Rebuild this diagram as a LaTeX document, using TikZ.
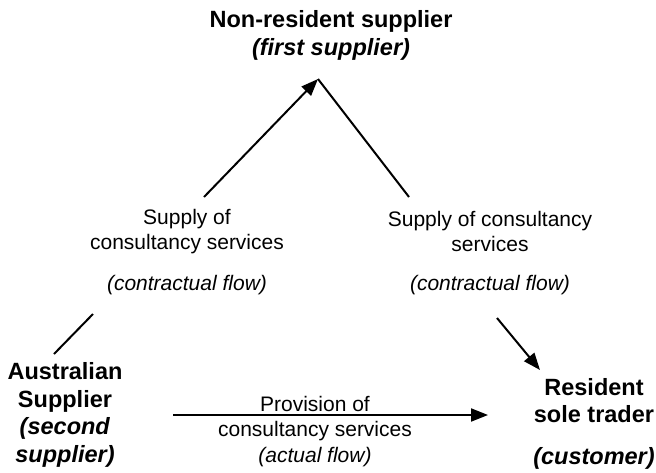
\documentclass[tikz,border=0pt]{standalone}
\usepackage{fontspec}
\setmainfont{Liberation Sans}
\usetikzlibrary{arrows.meta}
\begin{document}
\begin{tikzpicture}[x=1pt,y=-1pt,
  lbl/.style={align=center,inner sep=0pt,anchor=base,font=\fontsize{21}{25.5}\selectfont},
  party/.style={align=center,inner sep=0pt,anchor=base,font=\fontsize{23.5}{27.5}\selectfont\bfseries},
  flow/.style={line width=2pt,line cap=butt},
  flowarrow/.style={flow,-{Triangle[length=17pt,width=13pt]}}
]
\useasboundingbox (0,0) rectangle (656,472);
% parties (anchor = baseline of last line)
\node[party] (nr) at (331,55) {Non-resident supplier\\\textit{(first supplier)}};
\node[party] (au) at (65,462) {Australian\\Supplier\\\textit{(second}\\\textit{supplier)}};
\node[party] (rs) at (594,464) {Resident\\sole trader\\[14pt]\textit{(customer)}};
% flow labels
\node[lbl] (ls) at (187,290) {Supply of\\consultancy services\\[15pt]\textit{(contractual flow)}};
\node[lbl] (rl) at (490,290) {Supply of consultancy\\services\\[13pt]\textit{(contractual flow)}};
\node[lbl] (pv) at (315,462) {Provision of\\consultancy services\\\textit{(actual flow)}};
% connector ends
\coordinate (apex) at (318,79);
\coordinate (lsTop) at (204,197);
\coordinate (rlTop) at (409,197);
\coordinate (lsBot) at (93,314);
\coordinate (auTop) at (54,354);
\coordinate (rlBot) at (497,318);
\coordinate (rsTop) at (540,370);
\coordinate (auRight) at (173,415);
\coordinate (rsLeft) at (488,415);
% connectors
\draw[flowarrow] (lsTop) -- (apex);
\draw[flow] (apex) -- (rlTop);
\draw[flow] (lsBot) -- (auTop);
\draw[flowarrow] (rlBot) -- (rsTop);
\draw[flowarrow] (auRight) -- (rsLeft);
\end{tikzpicture}
\end{document}
